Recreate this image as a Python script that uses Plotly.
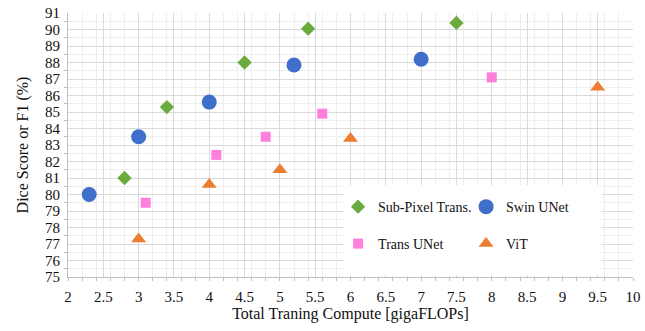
import plotly.graph_objects as go

# Data (x: Total Training Compute [gigaFLOPs], y: Dice Score or F1 (%))
subpixel_x = [2.8, 3.4, 4.5, 5.4, 7.5]
subpixel_y = [81.0, 85.3, 88.0, 90.05, 90.4]

swin_x = [2.3, 3.0, 4.0, 5.2, 7.0]
swin_y = [80.0, 83.5, 85.6, 87.85, 88.2]

transunet_x = [3.1, 4.1, 4.8, 5.6, 8.0]
transunet_y = [79.5, 82.4, 83.5, 84.9, 87.1]

vit_x = [3.0, 4.0, 5.0, 6.0, 9.5]
vit_y = [77.3, 80.6, 81.5, 83.4, 86.5]

x_ticks = [2, 2.5, 3, 3.5, 4, 4.5, 5, 5.5, 6, 6.5, 7, 7.5, 8, 8.5, 9, 9.5, 10]
x_tick_labels = ["2", "2.5", "3", "3.5", "4", "4.5", "5", "5.5", "6", "6.5",
                 "7", "7.5", "8", "8.5", "9", "9.5", "10"]

FONT = "Liberation Serif, Times New Roman, serif"

fig = go.Figure()
fig.add_trace(go.Scatter(x=subpixel_x, y=subpixel_y, mode="markers", name="Sub-Pixel Trans.",
                         marker=dict(symbol="diamond", size=11, color="#6AAB3D"), legend="legend"))
fig.add_trace(go.Scatter(x=swin_x, y=swin_y, mode="markers", name="Swin UNet",
                         marker=dict(symbol="circle", size=15, color="#3F6FCB"), legend="legend"))
fig.add_trace(go.Scatter(x=transunet_x, y=transunet_y, mode="markers", name="Trans UNet",
                         marker=dict(symbol="square", size=10, color="#FF80DC"), legend="legend2"))
fig.add_trace(go.Scatter(x=vit_x, y=vit_y, mode="markers", name="ViT",
                         marker=dict(symbol="triangle-up", size=13, color="#ED7D31"), legend="legend2"))

# white legend box background
fig.add_shape(type="rect", xref="paper", yref="paper", x0=0.487, x1=0.945, y0=0.008, y1=0.348,
              fillcolor="white", line=dict(width=0), layer="above")

legend_common = dict(orientation="h", bgcolor="rgba(0,0,0,0)", borderwidth=0,
                     font=dict(family=FONT, size=14, color="#111111"),
                     entrywidth=83, xanchor="left", yanchor="middle", itemclick=False)

fig.update_layout(
    width=645, height=331,
    margin=dict(l=68, r=12, t=13, b=54),
    paper_bgcolor="white", plot_bgcolor="white",
    font=dict(family=FONT, size=15, color="#111111"),
    showlegend=True,
    legend=dict(x=0.478, y=0.265, **legend_common),
    legend2=dict(x=0.478, y=0.125, **legend_common),
    xaxis=dict(
        range=[2, 10], tickmode="array", tickvals=x_ticks, ticktext=x_tick_labels,
        showgrid=True, gridcolor="#d9d9d9", gridwidth=1,
        minor=dict(dtick=0.2, tick0=2, showgrid=True, gridcolor="#eeeeee", ticks="outside",
                   ticklen=3, tickcolor="#bfbfbf"),
        showline=True, linecolor="#bfbfbf", linewidth=1,
        ticks="", zeroline=False, automargin="height", ticklabelstandoff=6,
        tickfont=dict(family=FONT, size=15, color="#111111"),
        title=dict(text="Total Traning Compute [gigaFLOPs]", standoff=2,
                   font=dict(family=FONT, size=16, color="#111111")),
    ),
    yaxis=dict(
        range=[75, 91], dtick=1, tick0=75,
        showgrid=True, gridcolor="#d9d9d9", gridwidth=1,
        minor=dict(dtick=0.5, tick0=75, showgrid=True, gridcolor="#eeeeee", ticks="outside",
                   ticklen=3, tickcolor="#bfbfbf"),
        showline=True, linecolor="#bfbfbf", linewidth=1,
        ticks="", zeroline=False, automargin="width", ticklabelstandoff=4,
        tickfont=dict(family=FONT, size=15, color="#111111"),
        title=dict(text="Dice Score or F1 (%)", standoff=12,
                   font=dict(family=FONT, size=16, color="#111111")),
    ),
)

fig.write_html("out.html", config={"displayModeBar": False},
               post_script="document.body.style.margin='0';")
